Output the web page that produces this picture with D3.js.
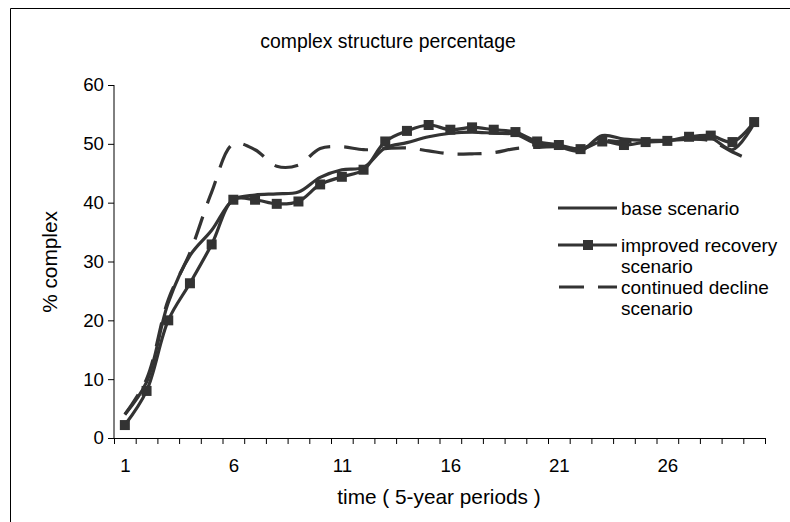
<!DOCTYPE html>
<html><head><meta charset="utf-8">
<script src="https://cdn.jsdelivr.net/npm/d3@7"></script>
<style>
html,body{margin:0;padding:0;background:#fff;}
svg{display:block;font-family:"Liberation Sans",Arial,sans-serif;}
</style></head>
<body><svg id="chart" width="790" height="522"></svg>
<script>
const periods = d3.range(1, 31);
const baseScenario = [4, 9.5, 23, 31, 35.3, 40.5, 41.3, 41.5, 41.8, 44.3, 45.6, 46, 49.3, 50.2, 51.2, 51.8, 52, 51.8, 51.6, 50, 49.5, 48.8, 51.4, 50.8, 50.6, 50.6, 50.8, 51, 49, 53.5];
const improvedRecovery = [2.2, 8, 20, 26.3, 32.9, 40.5, 40.5, 39.8, 40.2, 43.1, 44.4, 45.6, 50.4, 52.2, 53.2, 52.4, 52.8, 52.4, 52, 50.4, 49.8, 49.1, 50.4, 49.8, 50.3, 50.5, 51.2, 51.4, 50.3, 53.7];
const continuedDecline = [4, 10, 23.5, 31.5, 41.8, 50, 49, 46.2, 46.4, 49.2, 49.5, 49, 49.2, 49.3, 48.8, 48.3, 48.3, 48.5, 49.2, 49.4, 49.5, 49.2, 50.5, 50.3, 50.5, 50.5, 50.8, 50.5, 48.6, 47];
const yTicks = [0, 10, 20, 30, 40, 50, 60];
const xLabels = [1, 6, 11, 16, 21, 26];
const legendLabels = [["base scenario"], ["improved recovery", "scenario"], ["continued decline", "scenario"]];

const svg = d3.select("#chart");
const FONT = 18.7;
const col = "#333333";

// frame
svg.append("path").attr("d", "M10.5,522 V8.5 H790").attr("fill", "none").attr("stroke", "#000").attr("stroke-width", 1);

const x = d3.scaleLinear().domain([0.5, 30.5]).range([114, 765]);
const y = d3.scaleLinear().domain([0, 60]).range([438, 85]);

// y axis
const yAx = svg.append("g").attr("transform", "translate(114,0)")
  .call(d3.axisLeft(y).tickValues(yTicks).tickSize(6).tickPadding(4).tickFormat(d3.format("d")));
yAx.select(".domain").attr("d", `M0,${y(0)}V${y(60)}`);
// x axis ticks
const xAx = svg.append("g").attr("transform", "translate(0,438)")
  .call(d3.axisBottom(x).tickValues(d3.range(0.5, 31, 1)).tickSize(6).tickFormat(""));
const xLab = svg.append("g").attr("transform", "translate(0,438)")
  .call(d3.axisBottom(x).tickValues(xLabels).tickSize(0).tickPadding(21).tickFormat(d3.format("d")));
xLab.select(".domain").remove();
[yAx, xAx, xLab].forEach(g => {
  g.selectAll("path,line").attr("stroke", "#000").attr("stroke-width", 1);
  g.selectAll("text").attr("font-size", FONT).attr("fill", "#000").attr("font-family", "Liberation Sans, Arial, sans-serif");
});

// lines
const line = d3.line().x((d, i) => x(periods[i])).y(d => y(d)).curve(d3.curveCatmullRom.alpha(0.5));
svg.append("path").datum(continuedDecline).attr("d", line).attr("fill", "none")
  .attr("stroke", col).attr("stroke-width", 3.2).attr("stroke-dasharray", "24,14");
svg.append("path").datum(baseScenario).attr("d", line).attr("fill", "none")
  .attr("stroke", col).attr("stroke-width", 3.2);
svg.append("path").datum(improvedRecovery).attr("d", line).attr("fill", "none")
  .attr("stroke", col).attr("stroke-width", 3.2);
svg.selectAll("rect.mk").data(improvedRecovery).join("rect").attr("class", "mk")
  .attr("x", (d, i) => x(periods[i]) - 5).attr("y", d => y(d) - 5)
  .attr("width", 10).attr("height", 10).attr("fill", col);

// title and axis titles
svg.append("text").attr("x", 388).attr("y", 48).attr("text-anchor", "middle")
  .attr("font-size", 19.4).text("complex structure percentage");
svg.append("text").attr("transform", "translate(57,262) rotate(-90)").attr("text-anchor", "middle")
  .attr("font-size", 20.8).text("% complex");
svg.append("text").attr("x", 439).attr("y", 504).attr("text-anchor", "middle")
  .attr("font-size", 20.8).text("time ( 5-year periods )");

// legend
const lg = svg.append("g");
const ly = [208, 245, 287];
lg.append("line").attr("x1", 558).attr("x2", 617).attr("y1", ly[0]).attr("y2", ly[0]).attr("stroke", col).attr("stroke-width", 3.2);
lg.append("line").attr("x1", 558).attr("x2", 617).attr("y1", ly[1]).attr("y2", ly[1]).attr("stroke", col).attr("stroke-width", 3.2);
lg.append("rect").attr("x", 583).attr("y", ly[1] - 5).attr("width", 10).attr("height", 10).attr("fill", col);
lg.append("line").attr("x1", 559).attr("x2", 617).attr("y1", ly[2]).attr("y2", ly[2]).attr("stroke", col).attr("stroke-width", 3.2).attr("stroke-dasharray", "25,14");
legendLabels.forEach((lines, i) => {
  lines.forEach((t, j) => {
    lg.append("text").attr("x", 621).attr("y", ly[i] + 6.5 + j * 21).attr("font-size", 19).attr("fill", "#000").text(t);
  });
});
</script></body></html>
